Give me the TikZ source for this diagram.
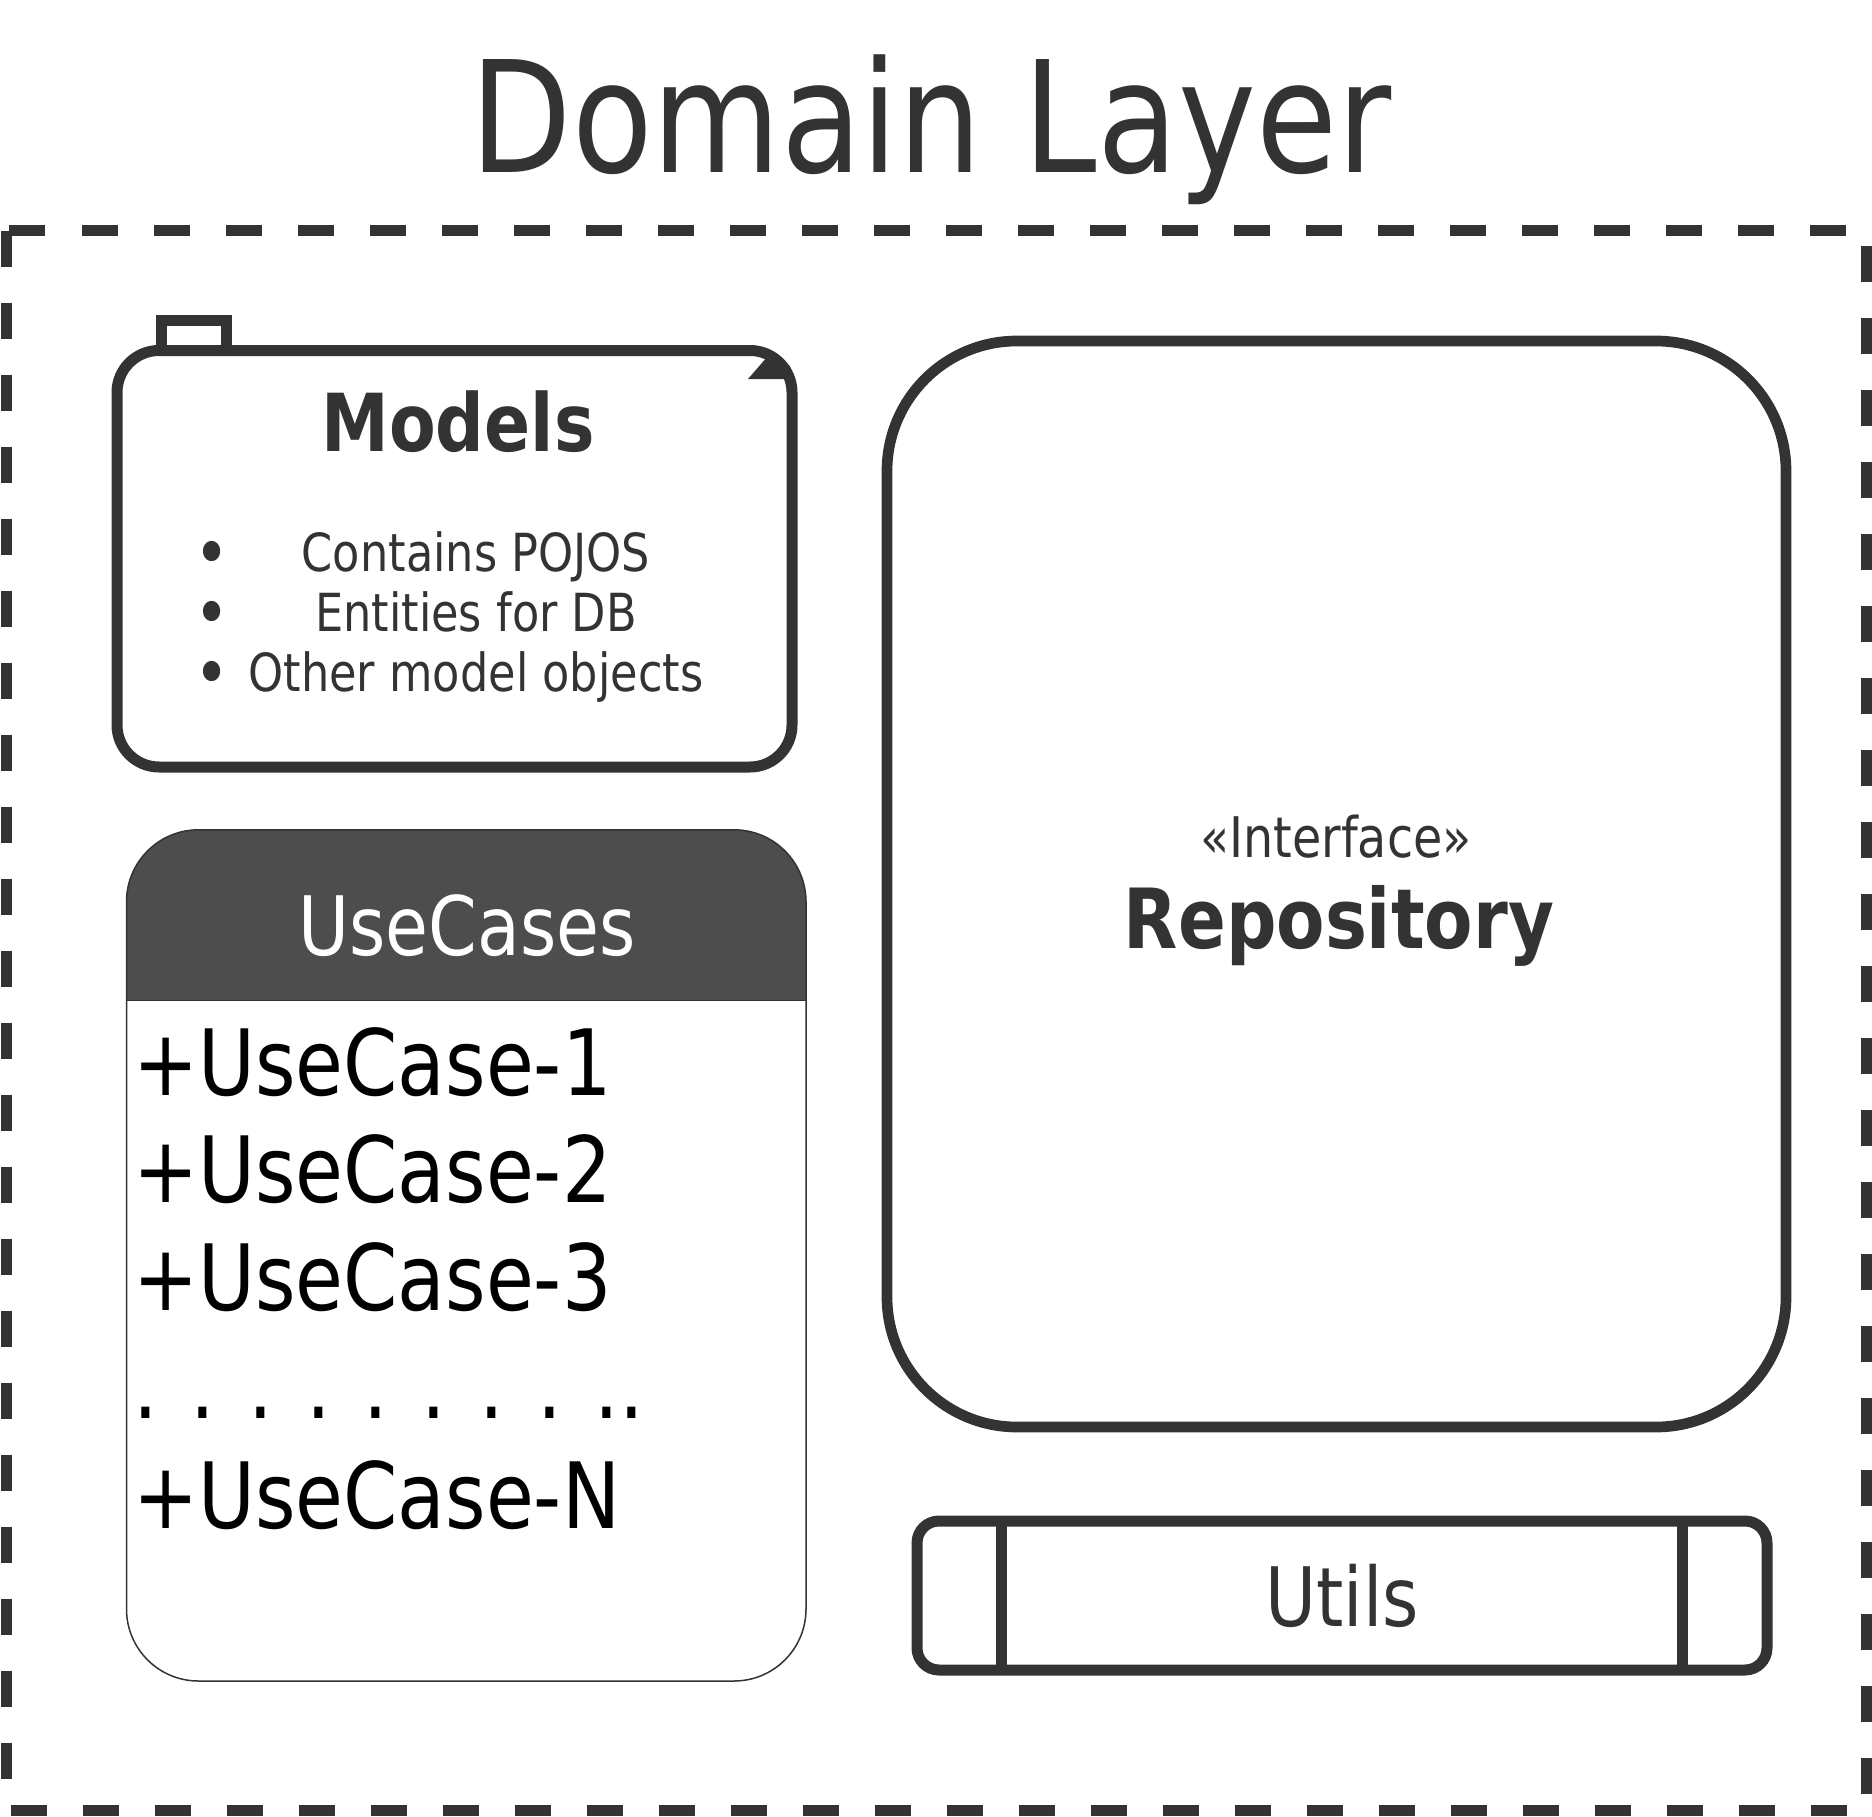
\documentclass[tikz,border=0pt]{standalone}
\definecolor{LineGray}{HTML}{333333}
\definecolor{HeadGray}{HTML}{4D4D4D}
\usepackage{fontspec}
\setmainfont{DejaVu Sans}[FakeStretch=0.85]
\usepackage{tikz}
\usetikzlibrary{positioning, calc}
\tikzstyle{boxline} = [LineGray, line width=11pt]
\tikzstyle{txt} = [inner sep=0pt, anchor=base, text=LineGray]
\tikzstyle{item} = [inner sep=0pt, anchor=base west, text=black, font=\fontsize{91.5}{96}\selectfont]

\begin{document}
\begin{tikzpicture}[x=1pt, y=-1pt]
    \useasboundingbox (0,0) rectangle (1872,1817);

    % outer layer frame
    \draw[LineGray, line width=11pt, dash pattern=on 36pt off 36pt] (6.5,230.5) rectangle (1866,1810.5);
    \node[txt, font=\fontsize{155}{160}\selectfont] (title) at (931,173) {Domain Layer};

    % models package
    \draw[boxline, rounded corners=42pt] (117,600) -- (117,350.5) -- (792,350.5) -- (792,767) -- (117,767) -- cycle;
    \draw[boxline] (161.5,350.5) -- (161.5,320.5) -- (226.5,320.5) -- (226.5,350.5);
    \fill[LineGray] (748,379) -- (768,356) -- (790,366) -- (790,379) -- cycle;
    \node[txt, font=\fontsize{80}{84}\selectfont\bfseries] (models) at (458,451) {Models};
    \foreach \y/\t in {571/Contains POJOS, 631/Entities for DB, 691/Other model objects} {
        \node[txt, font=\fontsize{70}{74}\selectfont] at (212.5,\y+6.5) {\textbullet};
        \node[txt, font=\fontsize{52.5}{56}\selectfont] at (476,\y) {\t};
    }

    % use cases class
    \begin{scope}
        \clip[rounded corners=72pt] (126.5,829.8) rectangle (806,1681);
        \fill[HeadGray] (126.5,829.8) rectangle (806,1000.5);
    \end{scope}
    \draw[LineGray, line width=1.5pt, rounded corners=72pt] (126.5,829.8) rectangle (806,1681);
    \draw[LineGray, line width=1.5pt] (126.5,1000.5) -- (806,1000.5);
    \node[txt, text=white, font=\fontsize{82}{86}\selectfont] (usecases) at (467,955) {UseCases};
    \node[item] (uc1) at (133,1095) {+UseCase-1};
    \node[item] (uc2) at (133,1202) {+UseCase-2};
    \node[item] (uc3) at (133,1310) {+UseCase-3};
    \node[item] (ucdots) at (133,1418) {. . . . . . . . ..};
    \node[item] (ucN) at (133,1528) {+UseCase-N};

    % repository interface
    \draw[LineGray, line width=10.7pt, rounded corners=130pt] (887,341) rectangle (1786,1427);
    \node[txt, font=\fontsize{56}{60}\selectfont] (iface) at (1336,857) {«Interface»};
    \node[txt, font=\fontsize{83}{87}\selectfont\bfseries] (repo) at (1339,948) {Repository};

    % utils component
    \draw[boxline, rounded corners=22pt] (917,1521) rectangle (1767,1670);
    \draw[boxline] (1001,1521) -- (1001,1670);
    \draw[boxline] (1682,1521) -- (1682,1670);
    \node[txt, font=\fontsize{82}{86}\selectfont] (utils) at (1342,1626) {Utils};
\end{tikzpicture}
\end{document}
